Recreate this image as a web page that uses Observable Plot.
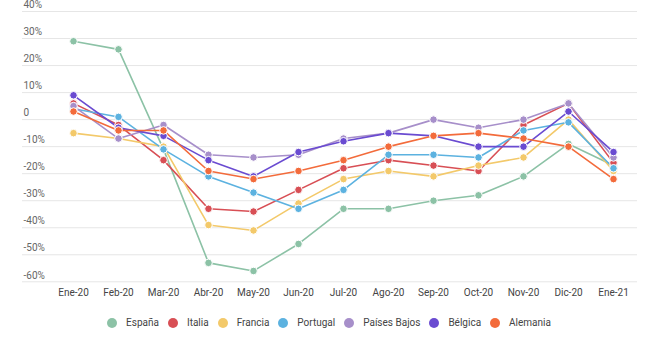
<!DOCTYPE html>
<html>
<head>
<meta charset="utf-8">
<script src="https://cdn.jsdelivr.net/npm/d3@7"></script>
<script src="https://cdn.jsdelivr.net/npm/@observablehq/plot@0.6"></script>
<style>
  html, body { margin: 0; padding: 0; background: #fff; }
  body { font-family: Roboto, "Noto Sans", sans-serif; width: 658px; height: 351px; overflow: hidden; }
  #legend { display: flex; justify-content: center; align-items: center; margin-top: 14px; font-size: 10px; color: #444; }
  .item { display: inline-flex; align-items: center; margin: 0 4.5px; }
  .sw { width: 10px; height: 10px; border-radius: 50%; display: inline-block; margin-right: 9px; }
</style>
</head>
<body>
<div id="chart"></div>
<div id="legend"></div>
<script>
const months = ["Ene-20","Feb-20","Mar-20","Abr-20","May-20","Jun-20","Jul-20","Ago-20","Sep-20","Oct-20","Nov-20","Dic-20","Ene-21"];
const countries = ["España","Italia","Francia","Portugal","Países Bajos","Bélgica","Alemania"];
const colors = ["#8cc2a6","#d84f55","#f3c96a","#5cb2e0","#a78fca","#6a4bd1","#f36b3b"];

const espana      = [29, 26, -11, -53, -56, -46, -33, -33, -30, -28, -21, -9, -17];
const italia      = [6, -2, -15, -33, -34, -26, -18, -15, -17, -19, -2, 6, -16];
const francia     = [-5, -7, -10, -39, -41, -31, -22, -19, -21, -17, -14, 0, -19];
const portugal    = [4, 1, -11, -21, -27, -33, -26, -13, -13, -14, -4, -1, -18];
const paisesBajos = [5, -7, -2, -13, -14, -13, -7, -5, 0, -3, 0, 6, -14];
const belgica     = [9, -3, -6, -15, -21, -12, -8, -5, -6, -10, -10, 3, -12];
const alemania    = [3, -4, -4, -19, -22, -19, -15, -10, -6, -5, -7, -10, -22];

const yTicks = [40, 30, 20, 10, 0, -10, -20, -30, -40, -50, -60];
const yTickLabels = ["40%","30%","20%","10%","0","-10%","-20%","-30%","-40%","-50%","-60%"];

const series = [espana, italia, francia, portugal, paisesBajos, belgica, alemania];
const data = [];
series.forEach((vals, i) => vals.forEach((v, j) => data.push({country: countries[i], month: months[j], value: v})));

const chart = Plot.plot({
  width: 658,
  height: 303,
  marginLeft: 22,
  marginRight: 21,
  marginTop: 11,
  marginBottom: 21.7,
  style: { fontFamily: "Roboto, sans-serif", fontSize: "10px", background: "#fff" },
  x: { type: "point", domain: months, padding: 0.78, align: 0.684, label: null },
  y: { domain: [-60, 40], label: null },
  color: { domain: countries, range: colors },
  marks: [
    Plot.gridY(yTicks, { stroke: "#e6e6e6", strokeOpacity: 1, strokeWidth: 1 }),
    Plot.axisY(yTicks, {
      anchor: "left", tickSize: 0, tickPadding: 0, textAnchor: "start", dx: 1, dy: -6.5,
      tickFormat: d => yTickLabels[yTicks.indexOf(d)], fill: "#666", label: null
    }),
    Plot.axisX({ tickSize: 0, tickPadding: 7, fill: "#444", label: null }),
    Plot.line(data, { x: "month", y: "value", z: "country", stroke: "country", strokeWidth: 1.6 }),
    Plot.dot(data, { x: "month", y: "value", fill: "country", stroke: "white", strokeWidth: 1, r: 3.8 })
  ]
});
document.getElementById("chart").appendChild(chart);

const legend = document.getElementById("legend");
countries.forEach((c, i) => {
  const it = document.createElement("span");
  it.className = "item";
  const sw = document.createElement("span");
  sw.className = "sw";
  sw.style.background = colors[i];
  it.appendChild(sw);
  it.appendChild(document.createTextNode(c));
  legend.appendChild(it);
});
</script>
</body>
</html>
